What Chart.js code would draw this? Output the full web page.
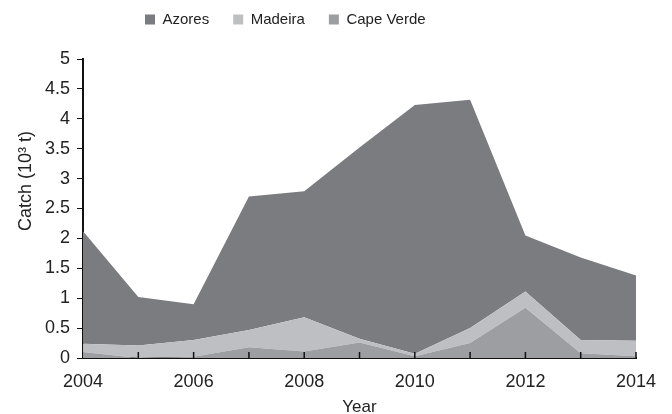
<!DOCTYPE html>
<html>
<head>
<meta charset="utf-8">
<script src="https://cdn.jsdelivr.net/npm/chart.js@4"></script>
<style>
  html, body { margin: 0; padding: 0; background: #fff; }
  #wrap { width: 672px; height: 414px; }
</style>
</head>
<body>
<div id="wrap"><canvas id="myChart"></canvas></div>
<script>
// catch per area, 10^3 t (stacked in the chart)
var years = ['2004', '2005', '2006', '2007', '2008', '2009', '2010', '2011', '2012', '2013', '2014'];
var capeVerde = [0.10, 0.00, 0.02, 0.18, 0.11, 0.26, 0.03, 0.25, 0.84, 0.08, 0.03];
var madeira   = [0.14, 0.21, 0.28, 0.29, 0.57, 0.06, 0.04, 0.25, 0.27, 0.22, 0.26];
var azores    = [1.88, 0.81, 0.60, 2.23, 2.11, 3.20, 4.16, 3.82, 0.94, 1.38, 1.09];
var yTitle = 'Catch (10³ t)';

var fontFam = '"Liberation Sans", Arial, Helvetica, sans-serif';

// small inward tick marks on the x axis + the y title a bit above centre
var extras = {
    id: 'extras',
    beforeInit: function(chart){
        // extra room under the legend
        var fit = chart.legend.fit;
        chart.legend.fit = function(){
            fit.call(chart.legend);
            this.height += 10;
        };
    },
    afterLayout: function(chart){
        // move the legend up and a bit to the left, like the original
        var lg = chart.legend;
        var pad = lg.options.labels.padding;
        var firstBox = (lg.left + pad + lg.right - lg.lineWidths[0]) / 2;
        var shift = 145 - firstBox;
        lg.left += shift;
        lg.right += shift;
        lg.top -= 12;
        lg.bottom -= 12;
    },
    afterDatasetsDraw: function(chart){
        var x = chart.scales.x, y = chart.scales.y;
        var ctx = chart.ctx;
        var base = y.getPixelForValue(0);
        ctx.save();
        ctx.strokeStyle = '#111';
        ctx.lineWidth = 1.5;
        for (var i = 1; i < years.length; i++) {
            var px = x.getPixelForValue(i);
            ctx.beginPath();
            ctx.moveTo(px, base);
            ctx.lineTo(px, base - 6);
            ctx.stroke();
        }
        ctx.restore();
    },
    afterDraw: function(chart){
        var ctx = chart.ctx;
        ctx.save();
        ctx.translate(26, 181);
        ctx.rotate(-Math.PI / 2);
        ctx.fillStyle = '#222';
        ctx.font = '18px ' + fontFam;
        ctx.textAlign = 'center';
        ctx.textBaseline = 'middle';
        ctx.fillText(yTitle, 0, 0);
        ctx.restore();
    }
};

var ctx = document.getElementById('myChart');
new Chart(ctx, {
    type: 'line',
    data: {
        labels: years,
        datasets: [
            { label: 'Cape Verde', data: capeVerde, backgroundColor: '#9d9ea1', fill: 'origin' },
            { label: 'Madeira', data: madeira, backgroundColor: '#bebfc2', fill: '-1' },
            { label: 'Azores', data: azores, backgroundColor: '#7b7c80', fill: '-1' }
        ]
    },
    options: {
        responsive: true,
        maintainAspectRatio: false,
        animation: false,
        elements: {
            line: { borderWidth: 0, tension: 0 },
            point: { radius: 0 }
        },
        layout: { padding: { left: 38, right: 36, top: 0, bottom: -4 } },
        plugins: {
            tooltip: { enabled: false },
            legend: {
                reverse: true,
                labels: {
                    boxWidth: 10,
                    boxHeight: 10,
                    padding: 24,
                    color: '#222',
                    font: { family: fontFam, size: 15 }
                }
            }
        },
        scales: {
            x: {
                grid: { display: false },
                border: { color: '#111', width: 2 },
                ticks: {
                    autoSkip: false,
                    maxRotation: 0,
                    padding: 5,
                    color: '#222',
                    font: { family: fontFam, size: 18 },
                    callback: function(val, i){ return i % 2 === 0 ? years[i] : ''; }
                },
                title: {
                    display: true,
                    text: 'Year',
                    color: '#222',
                    padding: { top: 0, bottom: 0 },
                    font: { family: fontFam, size: 17 }
                }
            },
            y: {
                stacked: true,
                min: 0,
                max: 5,
                grid: { drawOnChartArea: false, drawTicks: true, tickLength: 6, color: '#111' },
                border: { color: '#111', width: 2 },
                ticks: {
                    stepSize: 0.5,
                    padding: 7,
                    color: '#222',
                    font: { family: fontFam, size: 18 },
                    callback: function(v){ return String(parseFloat(v.toFixed(1))); }
                }
            }
        }
    },
    plugins: [extras]
});
</script>
</body>
</html>
